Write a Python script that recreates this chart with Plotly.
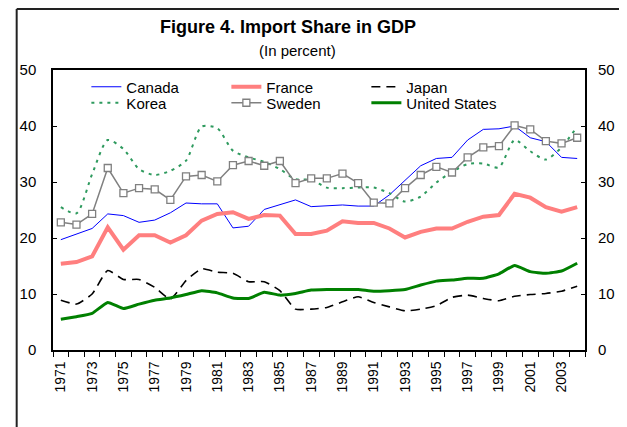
import plotly.graph_objects as go

years = list(range(1971, 2005))

canada = [19.7, 20.7, 21.7, 24.3, 24.0, 22.8, 23.2, 24.5, 26.25, 26.1, 26.1, 21.8, 22.1, 25.1, 26.0, 26.8, 25.6, 25.8,
          25.9, 25.7, 25.7, 27.7, 30.3, 32.9, 34.2, 34.4, 37.5, 39.4, 39.5, 40.0, 37.9, 37.2, 34.4, 34.2]
france = [15.4, 15.7, 16.7, 21.9, 17.9, 20.5, 20.5, 19.2, 20.5, 23.1, 24.3, 24.6, 23.4, 24.1, 24.0, 20.7, 20.7, 21.3,
          23.0, 22.7, 22.7, 21.7, 20.1, 21.1, 21.7, 21.7, 22.9, 23.8, 24.1, 27.9, 27.2, 25.5, 24.7, 25.5]
japan = [8.9, 8.2, 10.0, 14.2, 12.6, 12.6, 11.2, 9.1, 12.4, 14.5, 13.9, 13.7, 12.2, 12.2, 10.6, 7.3, 7.3, 7.6,
         8.6, 9.5, 8.5, 7.7, 7.0, 7.3, 7.9, 9.4, 9.8, 9.2, 8.8, 9.6, 9.9, 10.1, 10.5, 11.4]
korea = [25.5, 24.4, 31.4, 37.5, 35.9, 32.3, 31.25, 32.0, 33.8, 39.9, 39.6, 35.6, 34.4, 33.6, 32.3, 30.5, 30.4, 29.0,
         28.9, 29.0, 29.0, 28.0, 26.5, 27.4, 29.9, 31.8, 33.2, 33.3, 32.6, 37.5, 35.5, 34.0, 36.2, 39.9]
sweden = [22.8, 22.4, 24.3, 32.5, 28.0, 28.9, 28.7, 26.8, 31.0, 31.25, 30.1, 33.0, 33.75, 32.9, 33.75, 29.8, 30.65, 30.65,
          31.5, 29.8, 26.3, 26.2, 28.9, 31.25, 32.7, 31.7, 34.4, 36.2, 36.4, 40.1, 39.4, 37.3, 36.9, 37.9]
usa = [5.5, 5.95, 6.55, 8.5, 7.4, 8.2, 8.9, 9.3, 9.9, 10.6, 10.2, 9.3, 9.2, 10.3, 9.8, 10.1, 10.7, 10.8,
       10.8, 10.8, 10.5, 10.6, 10.8, 11.6, 12.3, 12.5, 12.8, 12.8, 13.6, 15.1, 14.0, 13.7, 14.1, 15.5]

year_labels = [str(y) for y in range(1971, 2004, 2)]
y_ticks = [0, 10, 20, 30, 40, 50]

# page body has an 8px margin: figure coordinates = reference coordinates - 8
O = 8
W, H = 627 - O, 427 - O
PX0, PX1, PY0, PY1 = 51, 593, 70, 350   # plot area in reference pixels
L, R, T, B = PX0 - O, W - (PX1 - O), PY0 - O, H - (PY1 - O)
pw, ph = PX1 - PX0, PY1 - PY0

def px_x(p):
    return (p - PX0) / pw

def px_y(p):
    return (PY1 - p) / ph

fig = go.Figure()
fig.add_trace(go.Scatter(x=years, y=canada, name="Canada", mode="lines", legend="legend",
                         line=dict(color="#0000FF", width=1)))
fig.add_trace(go.Scatter(x=years, y=france, name="France", mode="lines", legend="legend",
                         line=dict(color="#FF7F7F", width=4)))
fig.add_trace(go.Scatter(x=years, y=japan, name="Japan", mode="lines", legend="legend",
                         line=dict(color="black", width=1.6, dash="9px,6px", shape="spline", smoothing=0.5)))
fig.add_trace(go.Scatter(x=years, y=korea, name="Korea", mode="lines", legend="legend2",
                         line=dict(color="#2E9A5E", width=2, dash="3px,5px", shape="spline", smoothing=0.7)))
fig.add_trace(go.Scatter(x=years, y=sweden, name="Sweden", mode="lines+markers", legend="legend2",
                         line=dict(color="#808080", width=1.5),
                         marker=dict(symbol="square", size=7, color="white",
                                     line=dict(color="#808080", width=1.3))))
fig.add_trace(go.Scatter(x=years, y=usa, name="United States", mode="lines", legend="legend2",
                         line=dict(color="#008000", width=3, shape="spline", smoothing=0.4)))
# invisible trace to activate right axis
fig.add_trace(go.Scatter(x=years, y=usa, yaxis="y2", mode="lines", showlegend=False,
                         hoverinfo="skip", line=dict(color="rgba(0,0,0,0)", width=0)))

leg_common = dict(orientation="h", xanchor="left", yanchor="middle",
                  entrywidth=95, entrywidthmode="pixels", font=dict(size=15),
                  bgcolor="rgba(0,0,0,0)", itemwidth=30, borderwidth=0)

fig.update_layout(
    width=W, height=H,
    margin=dict(l=L, r=R, t=T, b=B, pad=0),
    paper_bgcolor="white", plot_bgcolor="white",
    font=dict(family="Liberation Sans, Arial, sans-serif", color="black", size=15),
    showlegend=True,
    legend=dict(x=px_x(85), y=px_y(87), **leg_common),
    legend2=dict(x=px_x(85), y=px_y(103), **leg_common),
    xaxis=dict(range=[1970.5, 2004.5], tickmode="array", tickvals=list(range(1971, 2004, 2)),
               ticktext=year_labels, tickangle=-90, ticks="", ticklen=0,
               tickfont=dict(size=14), showgrid=False, zeroline=False,
               showline=True, linecolor="black", linewidth=1.5, mirror=True,
               ticklabelstandoff=4,
               minor=dict(tickmode="linear", tick0=1970.5, dtick=1, ticks="outside",
                          ticklen=5, tickcolor="black", tickwidth=1, showgrid=False)),
    yaxis=dict(range=[0, 50], tickmode="array", tickvals=y_ticks, ticks="inside", ticklen=4,
               tickcolor="black", showgrid=False, zeroline=False,
               showline=True, linecolor="black", linewidth=1.5, mirror=True,
               tickfont=dict(size=15), ticklabelstandoff=12),
    yaxis2=dict(range=[0, 50], overlaying="y", side="right", tickmode="array", tickvals=y_ticks,
                ticks="inside", ticklen=4, tickcolor="black", showgrid=False, zeroline=False,
                showline=False, tickfont=dict(size=15), ticklabelstandoff=12),
    annotations=[
        dict(text="<b>Figure 4. Import Share in GDP</b>", x=px_x(290), y=px_y(27), xref="paper", yref="paper",
             showarrow=False, font=dict(size=18), xanchor="center", yanchor="middle"),
        dict(text="(In percent)", x=px_x(300), y=px_y(50), xref="paper", yref="paper",
             showarrow=False, font=dict(size=15), xanchor="center", yanchor="middle"),
    ],
    shapes=[
        dict(type="line", xref="paper", yref="paper", x0=px_x(14), x1=px_x(14), y0=px_y(9), y1=px_y(440),
             line=dict(color="#222222", width=2)),
        dict(type="line", xref="paper", yref="paper", x0=px_x(14), x1=px_x(640), y0=px_y(9), y1=px_y(9),
             line=dict(color="#222222", width=2)),
    ],
)

fig.write_html("out.html")
